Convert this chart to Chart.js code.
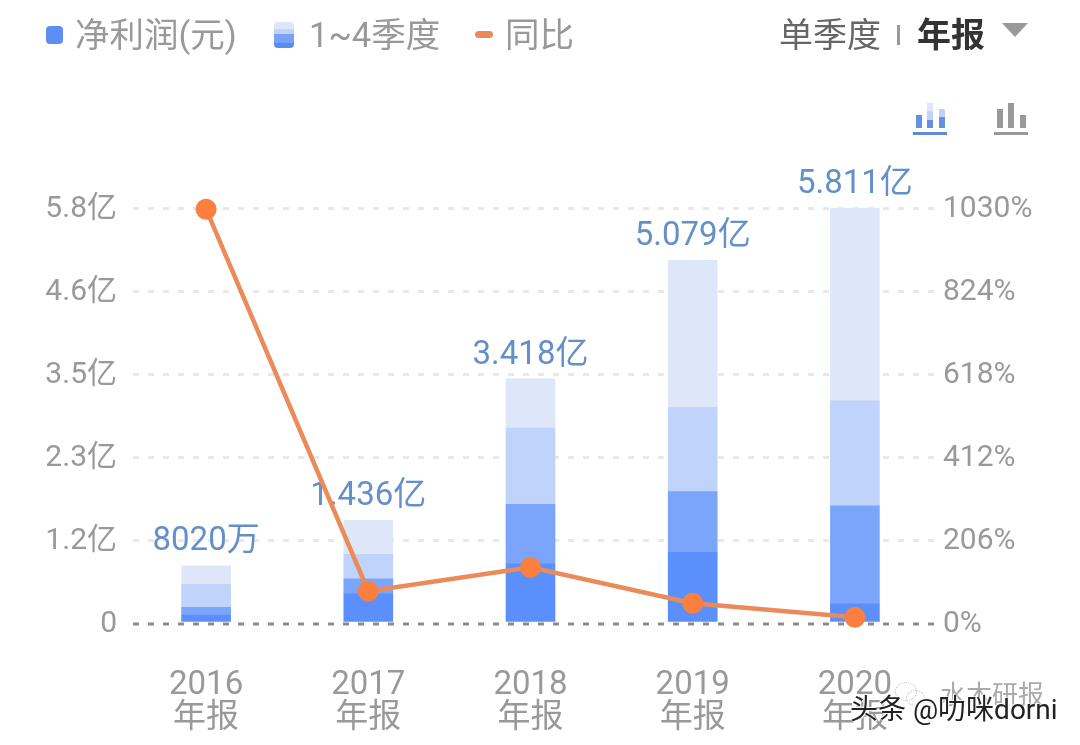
<!DOCTYPE html>
<html>
<head>
    <meta charset="utf-8">
    <title>净利润</title>
    <script src="https://cdn.jsdelivr.net/npm/chart.js"></script>
    <style>
        html, body { margin: 0; padding: 0; background: #fff; }
        #wrap { position: relative; width: 1080px; height: 745px; overflow: hidden;
                font-family: Roboto, "Noto Sans CJK SC", sans-serif; }
        #grafico { position: absolute; left: 0; top: 0; }
        .txt { position: absolute; font-size: 34.5px; line-height: 40px; white-space: nowrap; color: #999; }
        .box { position: absolute; }
    </style>
</head>
<body>
<div id="wrap">
    <canvas id="grafico" width="1080" height="745"></canvas>

    <!-- leyenda -->
    <div class="box" style="left:46px;top:26px;width:17px;height:18px;border-radius:4px;background:#5b8ff5"></div>
    <div class="txt" style="left:75px;top:15px">净利润(元)</div>
    <div class="box" style="left:274px;top:22px;width:20px;height:26px;border-radius:4px;overflow:hidden;
         background:linear-gradient(#dde7f9 0 28%,#c0d3fa 28% 47%,#76a2f8 47% 79%,#5b8cf0 79%)"></div>
    <div class="txt" style="left:309px;top:15px">1~4季度</div>
    <div class="box" style="left:475px;top:31px;width:18px;height:7px;border-radius:4px;background:#ec8b5a"></div>
    <div class="txt" style="left:505px;top:15px">同比</div>

    <!-- selector -->
    <div class="txt" style="left:779px;top:15px;font-size:34px;color:#666">单季度</div>
    <div class="box" style="left:897px;top:25px;width:3px;height:20px;background:#999"></div>
    <div class="txt" style="left:917px;top:15px;font-size:34px;color:#333;font-weight:bold">年报</div>
    <div class="box" style="left:1002px;top:23px;width:0;height:0;border-left:13px solid transparent;border-right:13px solid transparent;border-top:14px solid #999"></div>

    <!-- iconos -->
    <div class="box" style="left:916px;top:115px;width:6px;height:13px;background:#6691e0"></div>
    <div class="box" style="left:927px;top:103px;width:6px;height:25px;background:linear-gradient(#dde7f9 0 33%,#c0d3fa 33% 66%,#6691e0 66%)"></div>
    <div class="box" style="left:939px;top:109px;width:6px;height:19px;background:linear-gradient(#c0d3fa 0 43%,#6691e0 43%)"></div>
    <div class="box" style="left:913px;top:132px;width:34px;height:3px;background:#5d8bd6"></div>
    <div class="box" style="left:997px;top:109px;width:6px;height:19px;background:#999"></div>
    <div class="box" style="left:1008px;top:103px;width:6px;height:25px;background:#999"></div>
    <div class="box" style="left:1020px;top:115px;width:6px;height:13px;background:#999"></div>
    <div class="box" style="left:994px;top:132px;width:34px;height:3px;background:#999"></div>

    <!-- marcas de agua -->
    <div class="box" style="left:895px;top:682px;width:20px;height:17px;border:1px dotted #bbb;border-radius:50%"></div>
    <div class="box" style="left:906px;top:690px;width:17px;height:14px;border:1px dotted #bbb;border-radius:50%"></div>
    <div class="txt" style="left:940px;top:680px;font-size:26px;line-height:30px;color:#aaa">水木研报</div>
    <div class="txt" style="left:850px;top:692px;font-size:28px;line-height:36px;color:#222;text-shadow:0 0 2px #fff,1px 1px 1px #fff,-1px -1px 1px #fff">头条 @叻咪dorni</div>
</div>

<script>
    // Datos
    var anios = ['2016', '2017', '2018', '2019', '2020'];
    var sufijo = '年报';
    var trimestre1 = [0.11, 0.41, 0.83, 0.99, 0.27];
    var trimestre2 = [0.11, 0.21, 0.83, 0.85, 1.37];
    var trimestre3 = [0.32, 0.34, 1.07, 1.18, 1.47];
    var trimestre4 = [0.26, 0.476, 0.688, 2.059, 2.701];
    var etiquetasTotal = ['8020万', '1.436亿', '3.418亿', '5.079亿', '5.811亿'];
    var totales = [0.802, 1.436, 3.418, 5.079, 5.811];
    var tongbi = [1027, 79, 138, 49, 14];
    var ticksIzq = ['0', '1.2亿', '2.3亿', '3.5亿', '4.6亿', '5.8亿'];
    var ticksDer = ['0%', '206%', '412%', '618%', '824%', '1030%'];
    var maxIzq = 5.811;
    var maxDer = 1030;

    var fuente = 'Roboto, "Noto Sans CJK SC", sans-serif';

    function capa(datos, color) {
        return { type: 'bar', data: datos, backgroundColor: color, stack: 'neto', yAxisID: 'y', barThickness: 49, order: 1 };
    }

    // Linea del cero y etiquetas: justo antes de dibujar la linea naranja
    var encimaBarras = {
        id: 'encimaBarras',
        beforeDatasetDraw: function (chart, args) {
            if (args.index !== 4) return;
            var c = chart.ctx, x = chart.scales.x, y = chart.scales.y;
            c.save();
            c.strokeStyle = '#8c8c8c';
            c.lineWidth = 3;
            c.setLineDash([6, 9]);
            c.lineDashOffset = 7;
            c.beginPath();
            c.moveTo(chart.chartArea.left, y.getPixelForValue(0) + 1);
            c.lineTo(chart.chartArea.right, y.getPixelForValue(0) + 1);
            c.stroke();
            c.setLineDash([]);
            c.fillStyle = '#648fc8';
            c.font = '33px ' + fuente;
            c.textAlign = 'center';
            c.textBaseline = 'bottom';
            etiquetasTotal.forEach(function (t, i) {
                c.fillText(t, x.getPixelForValue(i), y.getPixelForValue(totales[i]) - 7);
            });
            c.restore();
        }
    };

    new Chart(document.getElementById('grafico'), {
        data: {
            labels: anios.map(function (a) { return [a, sufijo]; }),
            datasets: [
                capa(trimestre1, '#5b8ffc'),
                capa(trimestre2, '#7aa5fb'),
                capa(trimestre3, '#c0d3fa'),
                capa(trimestre4, '#dee7f9'),
                {
                    type: 'line', data: tongbi, yAxisID: 'y1', order: 0, clip: false,
                    borderColor: '#ec8b5a', borderWidth: 4.5, tension: 0,
                    pointRadius: 10.5, pointBackgroundColor: '#fb8040', pointBorderColor: '#fb8040', pointBorderWidth: 0
                }
            ]
        },
        options: {
            responsive: false,
            animation: false,
            events: [],
            layout: { padding: { top: 208 } },
            plugins: { legend: { display: false }, tooltip: { enabled: false } },
            scales: {
                x: {
                    stacked: true,
                    afterFit: function (s) { s.height = 122; },
                    grid: { display: false, drawTicks: false },
                    border: { display: false },
                    ticks: { color: '#999', padding: 46, maxRotation: 0, font: { family: fuente, size: 33, lineHeight: 1 } }
                },
                y: {
                    stacked: true,
                    position: 'left',
                    min: 0,
                    max: maxIzq,
                    afterFit: function (s) { s.width = 125; },
                    afterBuildTicks: function (s) {
                        s.ticks = ticksIzq.map(function (t, i) { return { value: maxIzq * i / (ticksIzq.length - 1) }; });
                    },
                    grid: {
                        drawTicks: false,
                        lineWidth: 3,
                        color: function (ctx) { return ctx.tick && ctx.tick.value === 0 ? 'transparent' : '#e8e8e8'; }
                    },
                    border: { display: false, dash: [6, 9], dashOffset: 7 },
                    ticks: {
                        color: '#999', padding: 8, labelOffset: 1, font: { family: fuente, size: 30 },
                        callback: function (v, i) { return ticksIzq[i]; }
                    }
                },
                y1: {
                    position: 'right',
                    min: 0,
                    max: maxDer,
                    afterFit: function (s) { s.width = 144; },
                    afterBuildTicks: function (s) {
                        s.ticks = ticksDer.map(function (t, i) { return { value: maxDer * i / (ticksDer.length - 1) }; });
                    },
                    grid: { display: false, drawTicks: false },
                    border: { display: false },
                    ticks: {
                        color: '#999', padding: 7, labelOffset: 1, font: { family: fuente, size: 30 },
                        callback: function (v, i) { return ticksDer[i]; }
                    }
                }
            }
        },
        plugins: [encimaBarras]
    });
</script>
</body>
</html>
